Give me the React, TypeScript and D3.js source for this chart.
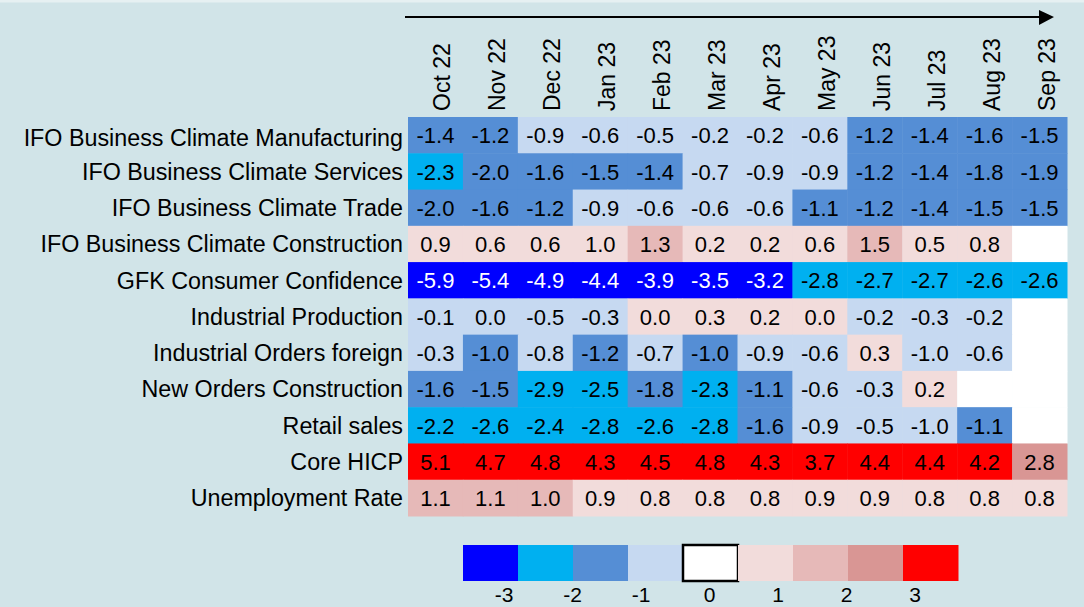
import * as d3 from 'd3';
import React from 'react';

const WIDTH = 1084;
const HEIGHT = 607;
const FONT = "'Liberation Sans', Arial, sans-serif";

const months = ['Oct 22', 'Nov 22', 'Dec 22', 'Jan 23', 'Feb 23', 'Mar 23', 'Apr 23', 'May 23', 'Jun 23', 'Jul 23', 'Aug 23', 'Sep 23'];

const indicators = [
  'IFO Business Climate Manufacturing',
  'IFO Business Climate Services',
  'IFO Business Climate Trade',
  'IFO Business Climate Construction',
  'GFK Consumer Confidence',
  'Industrial Production',
  'Industrial Orders foreign',
  'New Orders Construction',
  'Retail sales',
  'Core HICP',
  'Unemployment Rate',
];

// one array per indicator, null = not yet published
const ifoManufacturing = [-1.4, -1.2, -0.9, -0.6, -0.5, -0.2, -0.2, -0.6, -1.2, -1.4, -1.6, -1.5];
const ifoServices = [-2.3, -2.0, -1.6, -1.5, -1.4, -0.7, -0.9, -0.9, -1.2, -1.4, -1.8, -1.9];
const ifoTrade = [-2.0, -1.6, -1.2, -0.9, -0.6, -0.6, -0.6, -1.1, -1.2, -1.4, -1.5, -1.5];
const ifoConstruction = [0.9, 0.6, 0.6, 0.98, 1.3, 0.2, 0.2, 0.6, 1.5, 0.5, 0.8, null];
const gfkConfidence = [-5.9, -5.4, -4.9, -4.4, -3.9, -3.5, -3.2, -2.8, -2.7, -2.7, -2.6, -2.6];
const industrialProduction = [-0.1, -0.02, -0.5, -0.3, 0.02, 0.3, 0.2, 0.02, -0.2, -0.3, -0.2, null];
const ordersForeign = [-0.3, -1.02, -0.8, -1.2, -0.7, -1.02, -0.9, -0.6, 0.3, -0.98, -0.6, null];
const ordersConstruction = [-1.6, -1.5, -2.9, -2.5, -1.8, -2.3, -1.1, -0.6, -0.3, 0.2, null, null];
const retailSales = [-2.2, -2.6, -2.4, -2.8, -2.6, -2.8, -1.6, -0.9, -0.5, -0.98, -1.1, null];
const coreHicp = [5.1, 4.7, 4.8, 4.3, 4.5, 4.8, 4.3, 3.7, 4.4, 4.4, 4.2, 2.8];
const unemployment = [1.1, 1.1, 1.02, 0.9, 0.8, 0.8, 0.8, 0.9, 0.9, 0.8, 0.8, 0.8];

const series = [
  ifoManufacturing,
  ifoServices,
  ifoTrade,
  ifoConstruction,
  gfkConfidence,
  industrialProduction,
  ordersForeign,
  ordersConstruction,
  retailSales,
  coreHicp,
  unemployment,
];

const thresholds = [-3, -2, -1, 0, 1, 2, 3];
const binColors = ['#0000ff', '#00b0f0', '#558ed5', '#c6d9f1', '#f2dcdb', '#e6b9b8', '#d99694', '#ff0000'];
const legendTicks = [-3, -2, -1, 0, 1, 2, 3];

const color = d3.scaleThreshold<number, string>().domain(thresholds).range(binColors);
const fmt = d3.formatLocale({ decimal: '.', thousands: ',', grouping: [3], currency: ['', ''], minus: '-' }).format('.1f');

const cells = series.flatMap((vals, r) =>
  vals.map((v, c) => ({ row: indicators[r], month: months[c], value: v })),
);

// legend has a white "0" box between negative and positive bins
const legendColors = [...binColors.slice(0, 4), '#ffffff', ...binColors.slice(4)];

export default function App() {
  const x = d3.scaleBand().domain(months).range([408, 1067]);
  const y = d3.scaleBand().domain(indicators).range([117, 516]);
  const lx = d3.scaleBand().domain(legendColors.map((_, i) => String(i))).range([463, 958]);
  const tickX = d3.scaleLinear().domain([-3, 3]).range([504, 915]);

  return (
    <svg
      width={WIDTH}
      height={HEIGHT}
      style={{ position: 'absolute', left: 0, top: 0, display: 'block' }}
      fontFamily={FONT}
    >
      <rect width={WIDTH} height={HEIGHT} fill="#d1e4e8" />
      <rect width={WIDTH} height={2.5} fill="#e6f0f2" />

      {/* time arrow */}
      <line x1={405} x2={1042} y1={17} y2={17} stroke="#000" strokeWidth={2} />
      <path d="M1039,10 L1054,17 L1039,25 Z" fill="#000" />

      {/* month labels */}
      {months.map(m => (
        <text
          key={m}
          transform={`translate(${(x(m) ?? 0) + x.bandwidth() / 2 + 15},111) rotate(-90)`}
          fontSize={23}
          fill="#000"
        >
          {m}
        </text>
      ))}

      {/* row labels */}
      {indicators.map((r, i) => (
        <text
          key={r}
          x={403}
          y={(y(r) ?? 0) + y.bandwidth() / 2 + 8.4 + (i === 0 ? 2 : 0)}
          textAnchor="end"
          fontSize={23.3}
          fill="#000"
        >
          {r}
        </text>
      ))}

      {/* cells */}
      {cells.map(d => (
        <g key={`${d.row}-${d.month}`}>
          <rect
            x={x(d.month)}
            y={y(d.row)}
            width={x.bandwidth() + 0.5}
            height={y.bandwidth() + 0.5}
            fill={d.value === null ? '#ffffff' : color(d.value)}
          />
          {d.value !== null && (
            <text
              x={(x(d.month) ?? 0) + x.bandwidth() / 2}
              y={(y(d.row) ?? 0) + y.bandwidth() / 2 + 8.2}
              textAnchor="middle"
              fontSize={22}
              fill={d.value < -3 ? '#ffffff' : '#000'}
            >
              {fmt(d.value)}
            </text>
          )}
        </g>
      ))}

      {/* legend */}
      {legendColors.map((c, i) => (
        <rect
          key={i}
          x={lx(String(i))}
          y={545}
          width={lx.bandwidth() + (i === 4 ? 0 : 0.5)}
          height={36}
          fill={c}
          stroke={i === 4 ? '#000' : 'none'}
          strokeWidth={i === 4 ? 2.5 : 0}
        />
      ))}
      {legendTicks.map(t => (
        <text key={t} x={tickX(t)} y={601.5} textAnchor="middle" fontSize={21} fill="#000">
          {fmt(t).replace('.0', '')}
        </text>
      ))}
    </svg>
  );
}
